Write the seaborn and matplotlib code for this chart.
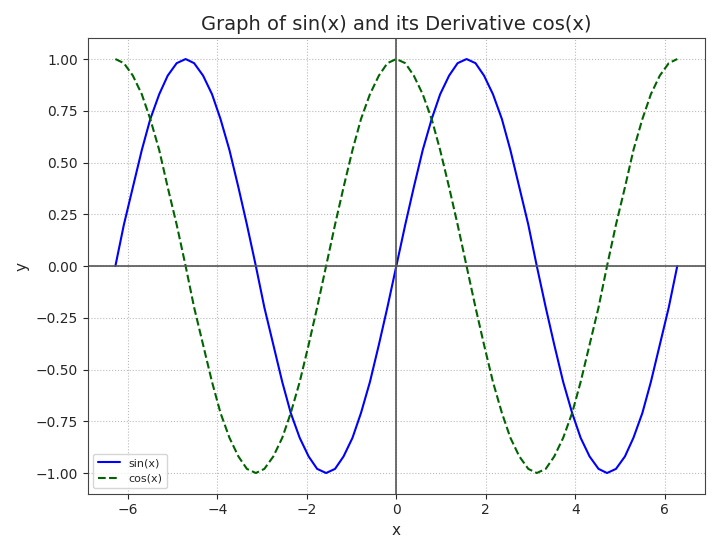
import matplotlib
matplotlib.use("Agg")
import matplotlib.pyplot as plt
import seaborn as sns
import pandas as pd

# x positions (from -2*pi to 2*pi in 64 steps)
x_vals = [-6.28, -6.09, -5.89, -5.69, -5.50, -5.30, -5.11, -4.91, -4.71, -4.52, -4.32, -4.12, -3.93, -3.73, -3.53, -3.34,
          -3.14, -2.95, -2.75, -2.55, -2.36, -2.16, -1.96, -1.77, -1.57, -1.37, -1.18, -0.98, -0.79, -0.59, -0.39, -0.20,
          0.00, 0.20, 0.39, 0.59, 0.79, 0.98, 1.18, 1.37, 1.57, 1.77, 1.96, 2.16, 2.36, 2.55, 2.75, 2.95,
          3.14, 3.34, 3.53, 3.73, 3.93, 4.12, 4.32, 4.52, 4.71, 4.91, 5.11, 5.30, 5.50, 5.69, 5.89, 6.09, 6.28]
sin_vals = [0, .20, .38, .56, .71, .83, .92, .98, 1, .98, .92, .83, .71, .56, .38, .20,
            0, -.20, -.38, -.56, -.71, -.83, -.92, -.98, -1, -.98, -.92, -.83, -.71, -.56, -.38, -.20,
            0, .20, .38, .56, .71, .83, .92, .98, 1, .98, .92, .83, .71, .56, .38, .20,
            0, -.20, -.38, -.56, -.71, -.83, -.92, -.98, -1, -.98, -.92, -.83, -.71, -.56, -.38, -.20, 0]
cos_vals = [1, .98, .92, .83, .71, .56, .38, .20, 0, -.20, -.38, -.56, -.71, -.83, -.92, -.98,
            -1, -.98, -.92, -.83, -.71, -.56, -.38, -.20, 0, .20, .38, .56, .71, .83, .92, .98,
            1, .98, .92, .83, .71, .56, .38, .20, 0, -.20, -.38, -.56, -.71, -.83, -.92, -.98,
            -1, -.98, -.92, -.83, -.71, -.56, -.38, -.20, 0, .20, .38, .56, .71, .83, .92, .98, 1]
x_ticks = [-6, -4, -2, 0, 2, 4, 6]
y_ticks = [-1.00, -0.75, -0.50, -0.25, 0.00, 0.25, 0.50, 0.75, 1.00]

sns.set_style("ticks")
plt.rcParams['font.family'] = ['DejaVu Sans']

df = pd.DataFrame({"x": x_vals, "sin": sin_vals, "cos": cos_vals})
fig, ax = plt.subplots(figsize=(7.2, 5.53), dpi=100)
sns.lineplot(data=df, x="x", y="sin", ax=ax, color="blue", label="sin(x)", lw=1.5)
sns.lineplot(data=df, x="x", y="cos", ax=ax, color="darkgreen", label="cos(x)", lw=1.5, linestyle="--")
ax.axhline(0, color="#555555", lw=1.2)
ax.axvline(0, color="#555555", lw=1.2)
ax.grid(True, linestyle=":", color="#bbbbbb")
ax.set_xticks(x_ticks)
ax.set_yticks(y_ticks)
ax.set_yticklabels([f"{v:.2f}".replace("-", "\u2212") for v in y_ticks])
ax.set_xlim(-6.9, 6.9)
ax.set_ylim(-1.1, 1.1)
ax.set_xlabel("x", fontsize=11)
ax.set_ylabel("y", fontsize=11)
ax.set_title("Graph of sin(x) and its Derivative cos(x)", fontsize=14)
ax.tick_params(labelsize=10)
for s in ax.spines.values():
    s.set_color("#444444")
ax.legend(loc="lower left", fontsize=8)
fig.tight_layout()
fig.savefig("out.png")
